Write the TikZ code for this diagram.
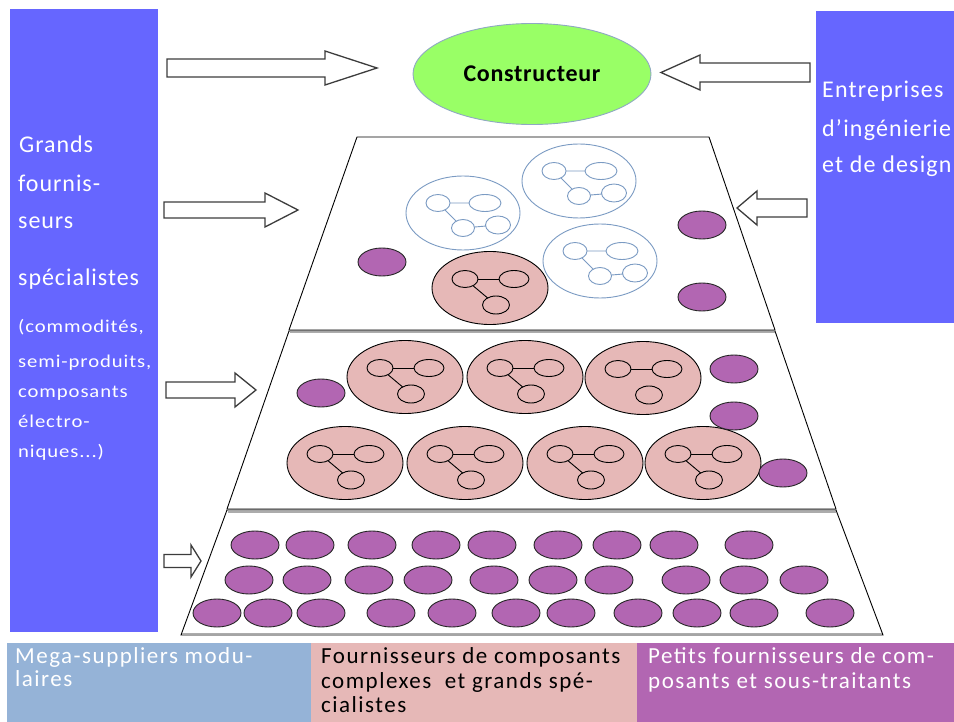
\documentclass[tikz,border=0pt]{standalone}
\usepackage{fontspec}
\setmainfont{Carlito}
\newfontfamily\panelfont[LetterSpace=4]{Carlito}
\newfontfamily\sidefont[LetterSpace=5]{Carlito}
\newfontfamily\notefont[LetterSpace=5,FakeStretch=1.15]{Carlito}
\newfontfamily\bandfont[LetterSpace=6.5]{Carlito}
\newfontfamily\headfont[LetterSpace=3]{Carlito}
\usetikzlibrary{shapes.geometric}

\definecolor{panelblue}{HTML}{6666FF}
\definecolor{headgreen}{HTML}{99FF66}
\definecolor{headrim}{HTML}{8FA9C2}
\definecolor{rose}{HTML}{E6B8B7}
\definecolor{plum}{HTML}{B266B2}
\definecolor{steel}{HTML}{7B9BC3}
\definecolor{bandblue}{HTML}{95B3D7}
\definecolor{arrowrim}{HTML}{3C3C3C}

\tikzset{
  blockarr/.style={draw=arrowrim, fill=white, line width=1.3pt, line join=miter},
  tier/.style={draw=black, fill=white, line width=0.9pt},
  tiershade/.style={draw=gray!65, line width=1.4pt},
  steelline/.style={draw=steel, line width=0.9pt},
  roseline/.style={draw=black, fill=rose, line width=0.9pt},
  linkline/.style={draw=black, line width=0.9pt},
  plumfill/.style={draw=black!85, fill=plum, line width=0.9pt},
  lefttext/.style={text=white, inner sep=0pt, anchor=base west,
    font=\panelfont\fontsize{24}{28}\selectfont},
  sidetext/.style={text=white, inner sep=0pt, anchor=base west,
    font=\sidefont\fontsize{24}{28}\selectfont},
  notetext/.style={text=white, inner sep=0pt, anchor=base west,
    font=\notefont\fontsize{18}{20}\selectfont},
  bandtext/.style={inner sep=0pt, anchor=base west,
    font=\bandfont\fontsize{23}{24}\selectfont},
}

% block arrow: tail x, head base x, tip x, axis y, shaft half height, head half height
\newcommand\blockarrow[6]{%
  \draw[blockarr] (#1,#4-#5) -- (#2,#4-#5) -- (#2,#4-#6) -- (#3,#4)
     -- (#2,#4+#6) -- (#2,#4+#5) -- (#1,#4+#5) -- cycle;}

% supplier network drawn in outline only
\newcommand\opengroup[2]{%
  \begin{scope}[shift={(#1,#2)}]
    \draw[steelline] (0,0) ellipse [x radius=57pt, y radius=37pt];
    \draw[steelline] (-25,-10) -- (22,-10) (-25,-10) -- (0,15) -- (35,12);
    \draw[steelline, fill=white]
      (-25,-10) ellipse [x radius=12pt, y radius=8.5pt]
      (22,-10) ellipse [x radius=16pt, y radius=8.5pt]
      (0,15) ellipse [x radius=11.5pt, y radius=8.5pt]
      (35,12) ellipse [x radius=12.5pt, y radius=9pt];
  \end{scope}}

% filled supplier network; third argument 1 draws the diagonal link
\newcommand\rosegroup[3]{%
  \begin{scope}[shift={(#1,#2)}]
    \draw[roseline] (0,0) ellipse [x radius=58pt, y radius=36.5pt];
    \draw[linkline] (-25,-9) -- (24,-9);
    \ifnum#3=1 \draw[linkline] (-25,-9) -- (6,17);\fi
    \draw[roseline]
      (-25,-9) ellipse [x radius=13pt, y radius=8.5pt]
      (24,-9) ellipse [x radius=15pt, y radius=8.5pt]
      (6,17) ellipse [x radius=13.5pt, y radius=9pt];
  \end{scope}}

\newcommand\plumdot[2]{\draw[plumfill] (#1,#2) ellipse [x radius=24pt, y radius=14pt];}

\begin{document}
\begin{tikzpicture}[x=1pt, y=-1pt]
  \useasboundingbox (0,0) rectangle (954,722);
  \fill[white] (0,0) rectangle (954,722);

  % side panels
  \fill[panelblue] (10,9) rectangle (158,632);
  \fill[panelblue] (816,11) rectangle (954,323);

  \node[lefttext] (g1) at (19,153) {Grands};
  \node[lefttext] (g2) at (18,192) {fournis-};
  \node[lefttext] (g3) at (18,229) {seurs};
  \node[lefttext] (g4) at (18,286) {spécialistes};
  \node[notetext] (n1) at (18,333) {(commodités,};
  \node[notetext] (n2) at (18,367) {semi-produits,};
  \node[notetext] (n3) at (18,397) {composants};
  \node[notetext] (n4) at (18,427) {électro-};
  \node[notetext] (n5) at (18,457) {niques...)};

  \begin{scope}
    \clip (816,11) rectangle (954,323);
    \node[sidetext] (e1) at (822,98) {Entreprises};
    \node[sidetext] (e2) at (822,137) {d’ingénierie};
    \node[sidetext] (e3) at (822,173) {et de design};
  \end{scope}

  % manufacturer
  \node[ellipse, draw=headrim, fill=headgreen, line width=0.9pt,
        minimum width=238pt, minimum height=101pt,
        font=\headfont\bfseries\fontsize{24}{28}\selectfont] (constr) at (532,74) {Constructeur};

  % pyramid tiers
  \draw[tier] (357,137) -- (709,137) -- (775,330) -- (289,330) -- cycle;
  \draw[tier] (289,331) -- (775,331) -- (836,509) -- (227,509) -- cycle;
  \draw[tier] (227,510) -- (836,510) -- (883,635) -- (181,635) -- cycle;
  \draw[tiershade] (290,332.8) -- (775,332.8);
  \draw[tiershade] (228,511.8) -- (836,511.8);
  \draw[tiershade] (182,633.2) -- (882,633.2);

  % arrows
  \blockarrow{167}{325}{377}{68}{9}{17}
  \blockarrow{810}{700}{661}{72.5}{9.5}{17.5}
  \blockarrow{164}{265}{298}{210}{8}{17}
  \blockarrow{807}{757}{737}{208}{9}{17}
  \blockarrow{166}{235}{256}{390}{8}{17}
  \blockarrow{164}{191}{201}{561}{6.5}{16}

  % tier 1
  \rosegroup{490}{288}{1}
  \opengroup{463}{213}
  \opengroup{579}{181}
  \opengroup{600}{261}
  \plumdot{382}{262}
  \plumdot{702}{225}
  \plumdot{702}{297}

  % tier 2
  \rosegroup{405}{377}{1}
  \rosegroup{525}{377}{1}
  \rosegroup{643}{378}{0}
  \rosegroup{345}{463}{1}
  \rosegroup{465}{463}{1}
  \rosegroup{585}{463}{1}
  \rosegroup{703}{463}{1}
  \plumdot{321}{393}
  \plumdot{734}{369}
  \plumdot{734}{416}
  \plumdot{783}{473}

  % tier 3
  \foreach \px in {255,310,372,436,492,558,617,674,749} {\plumdot{\px}{545}}
  \foreach \px in {249,307,369,428,494,553,609,686,744,804} {\plumdot{\px}{580}}
  \foreach \px in {217,268,321,391,452,516,571,638,697,754,830} {\plumdot{\px}{613}}

  % legend band
  \fill[bandblue] (7,643) rectangle (311,722);
  \fill[rose] (311,643) rectangle (637,722);
  \fill[plum] (637,643) rectangle (954,722);

  \node[bandtext, text=white] (b1) at (15,663) {Mega-suppliers modu-};
  \node[bandtext, text=white] (b2) at (15,686) {laires};
  \node[bandtext, text=black] (b3) at (321,663) {Fournisseurs de composants};
  \node[bandtext, text=black] (b4) at (321,688) {complexes \ et grands spé-};
  \node[bandtext, text=black] (b5) at (321,712) {cialistes};
  \node[bandtext, text=white] (b6) at (648,663) {Petits fournisseurs de com-};
  \node[bandtext, text=white] (b7) at (648,688) {posants et sous-traitants};
\end{tikzpicture}
\end{document}
